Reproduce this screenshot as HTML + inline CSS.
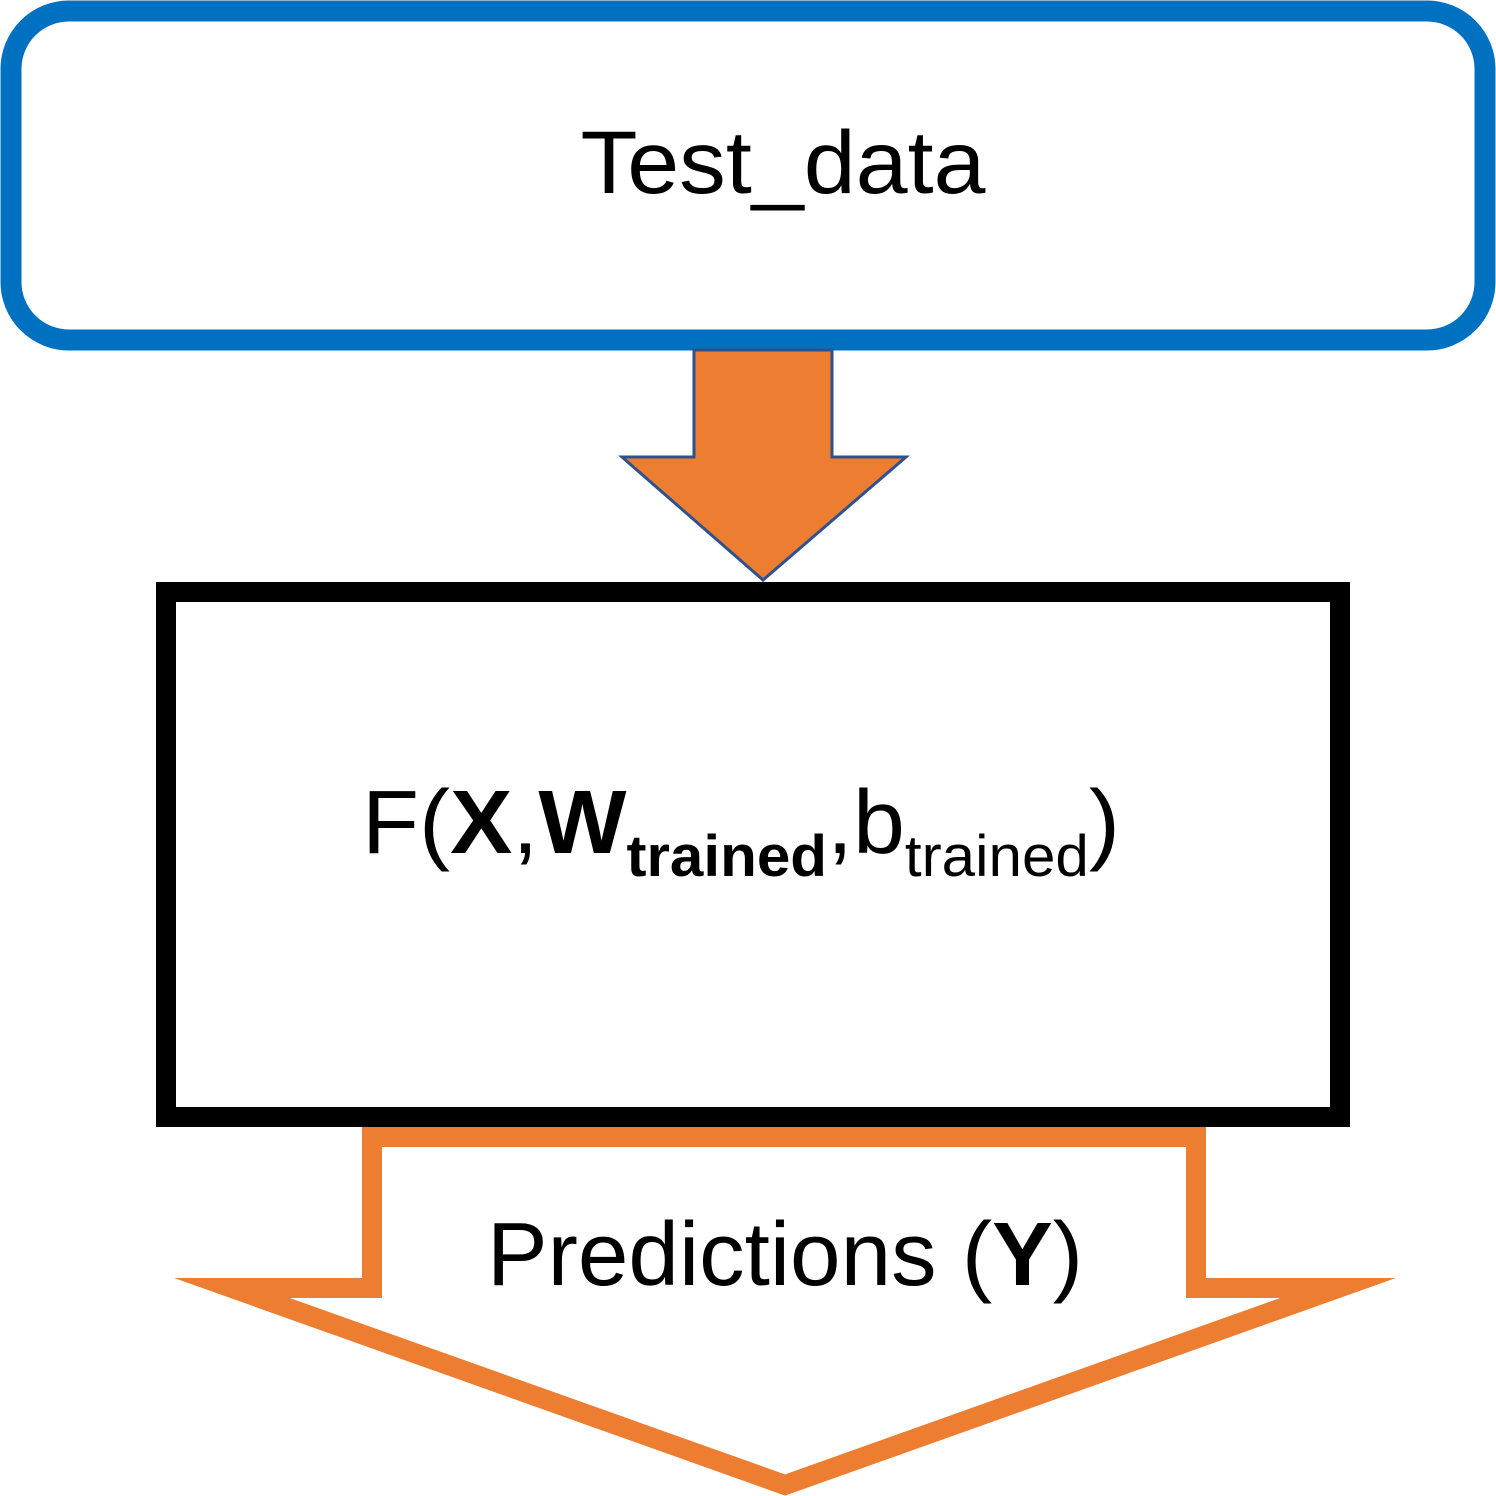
<!DOCTYPE html>
<html><head><meta charset="utf-8"><style>html,body{margin:0;padding:0;background:#fff}svg{display:block}</style></head>
<body>
<svg width="1496" height="1496" viewBox="0 0 1496 1496" xmlns="http://www.w3.org/2000/svg" font-family="Liberation Sans, Arial, sans-serif">
<rect x="11" y="11" width="1474" height="329" rx="58" ry="58" fill="#fff" stroke="#0070C0" stroke-width="21"/>
<text x="783" y="193" font-size="89" text-anchor="middle" textLength="405" lengthAdjust="spacingAndGlyphs">Test_data</text>
<polygon points="694,350 832,350 832,457 906,457 763,580 622,457 694,457" fill="#ED7D31" stroke="#2F528F" stroke-width="3"/>
<rect x="166" y="592" width="1174" height="525" fill="#fff" stroke="#000" stroke-width="20"/>
<text x="362" y="853" font-size="90" textLength="758" lengthAdjust="spacingAndGlyphs">F(<tspan font-weight="bold">X</tspan>,<tspan font-weight="bold">W</tspan><tspan font-weight="bold" font-size="58" dy="23">trained</tspan><tspan dy="-23">,b</tspan><tspan font-size="58" dy="23">trained</tspan><tspan dy="-23">)</tspan></text>
<polygon points="372,1137 1196,1137 1196,1288 1338,1288 785,1485 232,1288 372,1288" fill="#fff" stroke="#ED7D31" stroke-width="20" stroke-miterlimit="12"/>
<text x="487" y="1285" font-size="90" textLength="596" lengthAdjust="spacingAndGlyphs">Predictions (<tspan font-weight="bold">Y</tspan>)</text>
</svg>
</body></html>
